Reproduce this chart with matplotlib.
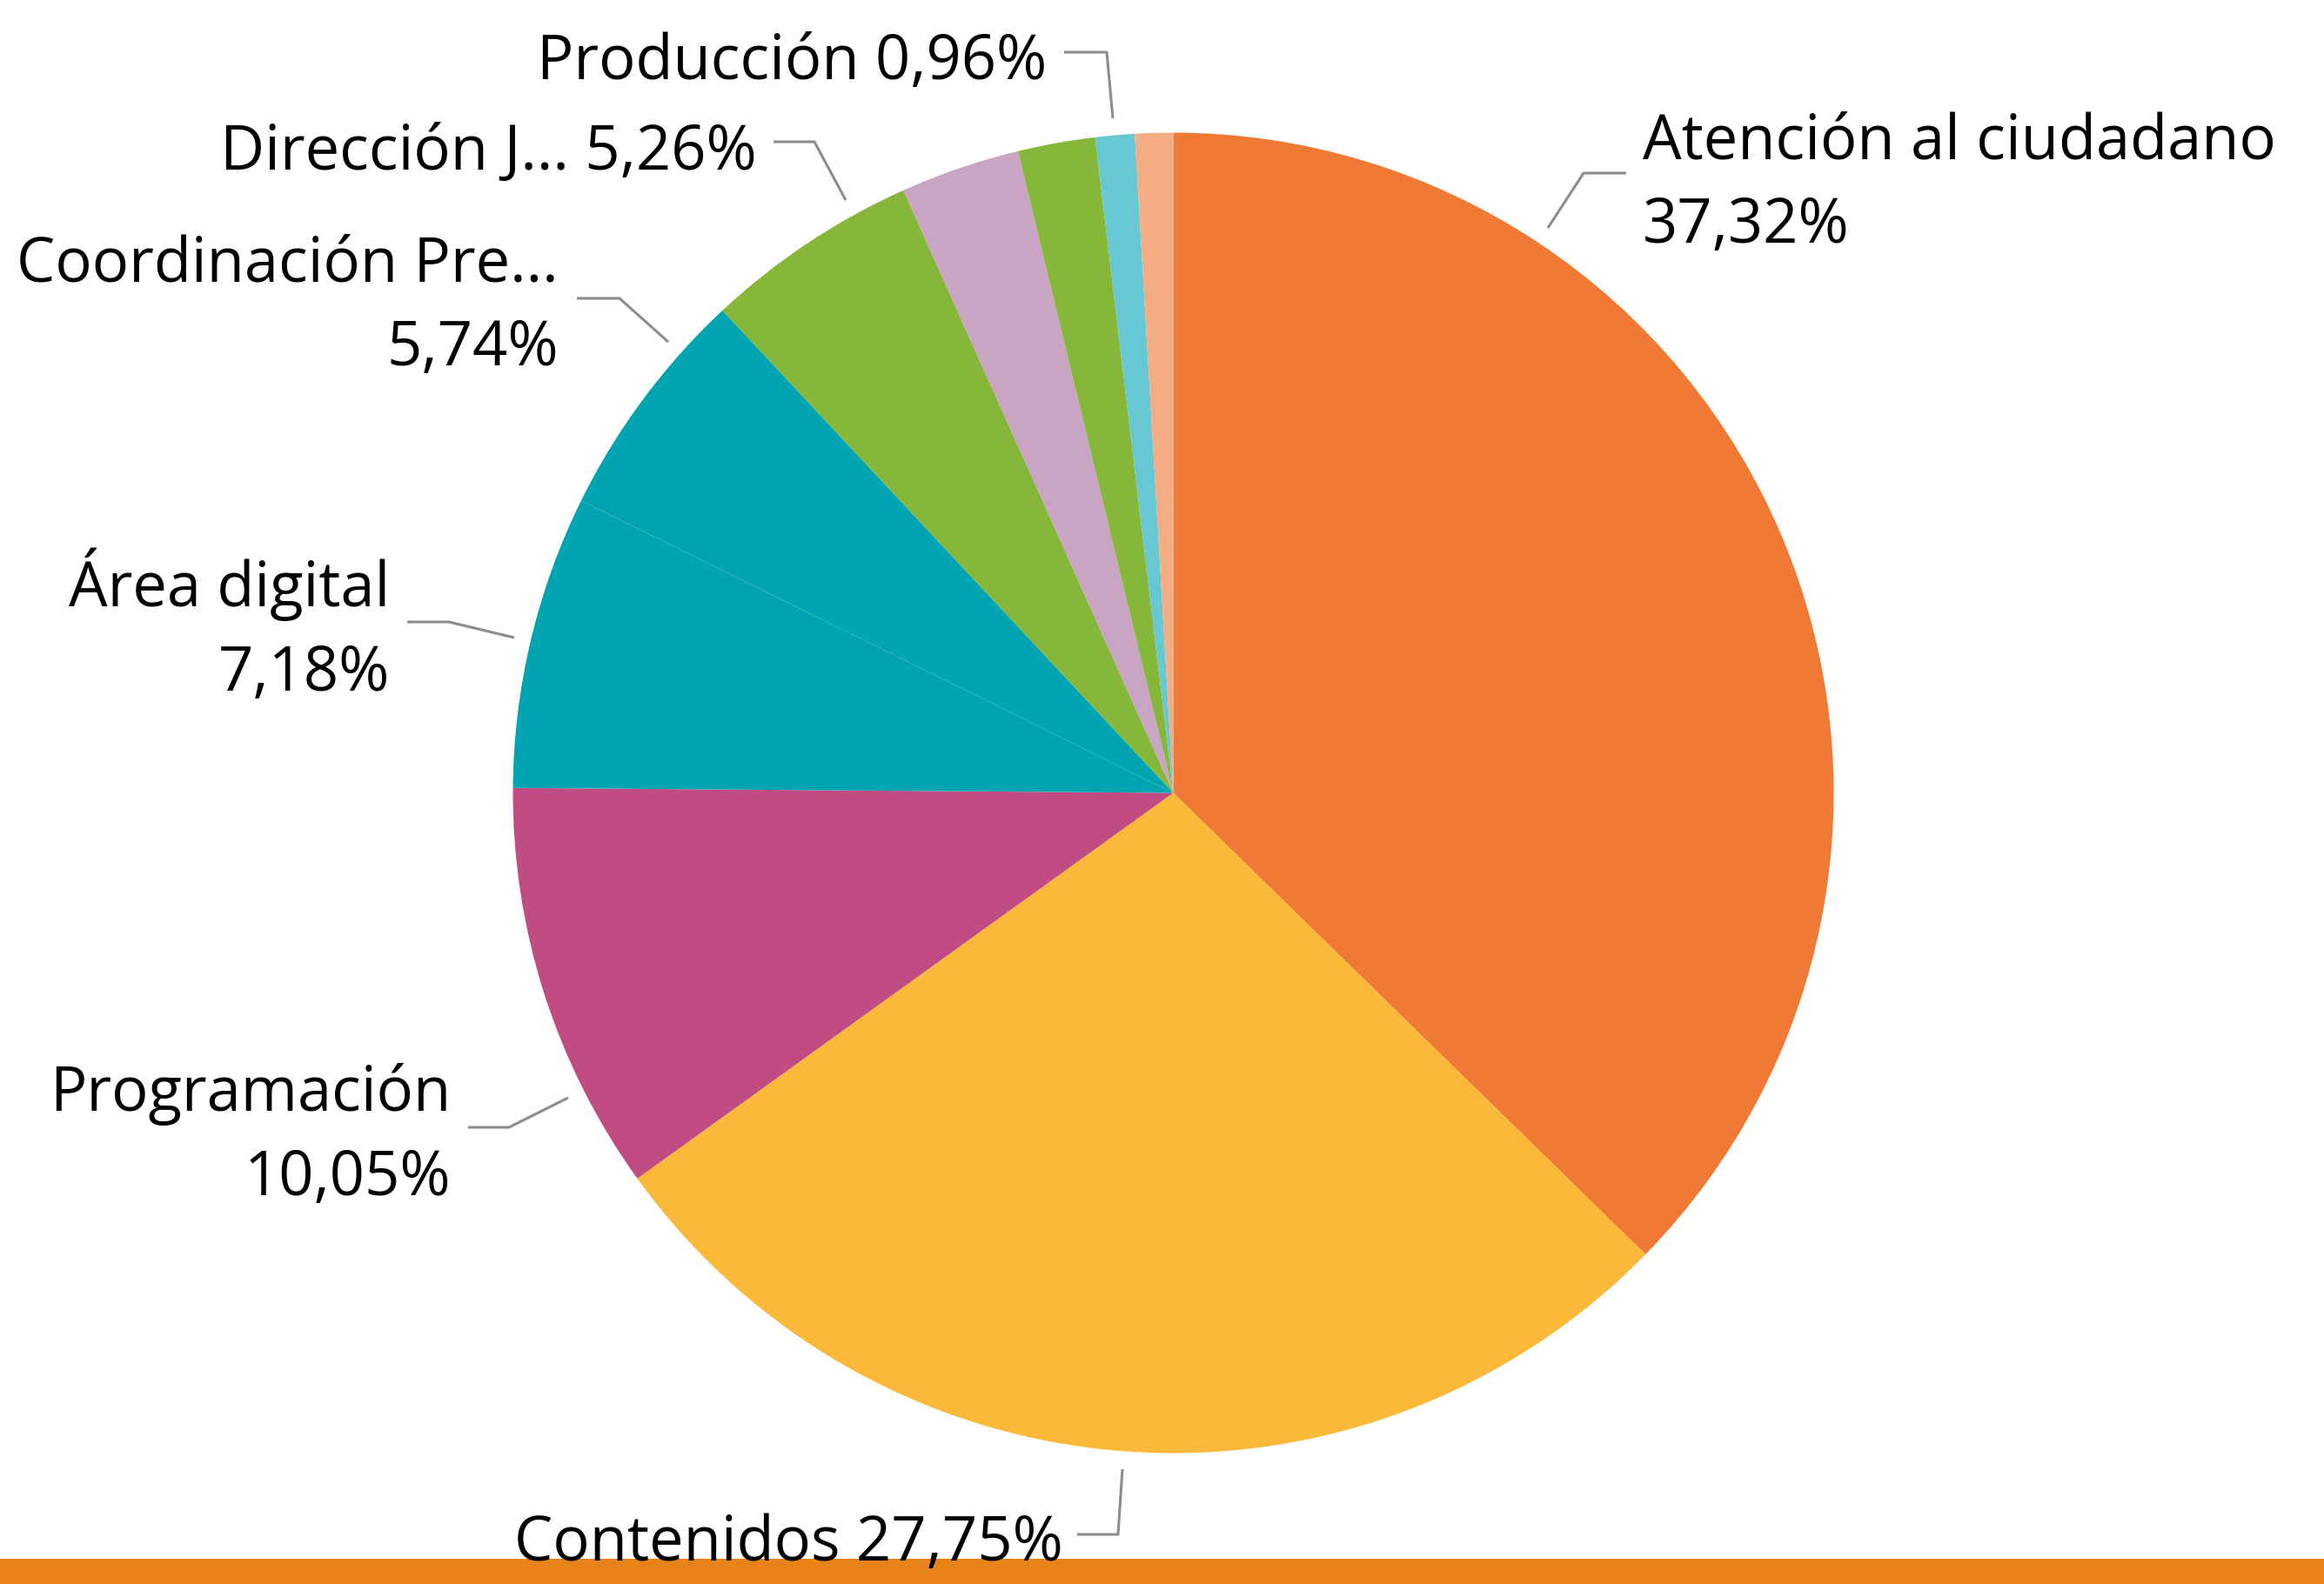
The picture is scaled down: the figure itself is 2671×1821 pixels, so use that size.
import matplotlib
matplotlib.use("Agg")
import matplotlib.pyplot as plt
from matplotlib.patches import Rectangle

plt.rcParams['font.family'] = ['Open Sans', 'DejaVu Sans']

# datos (sentido horario desde arriba)
categorias = ["Atención al ciudadano", "Contenidos", "Programación", "Área digital",
              "Coordinación Pre...", "Dirección J...", "", "", "Producción", ""]
valores = [37.32, 27.75, 10.05, 7.18, 5.74, 5.26, 2.92, 1.89, 0.96, 0.93]
colores = ["#F07935", "#FBB939", "#C04C83", "#00A5B1", "#00A5B1",
           "#86B73A", "#C9A5C3", "#86B73A", "#67C7D2", "#F4AD83"]

W, H = 2671, 1821
cx, cy, r = 1348.5, 911.5, 759.0   # centro y radio de la tarta en pixeles


def to_data(X, Y):
    return (X - cx) / r, (cy - Y) / r


fig = plt.figure(figsize=(W / 100, H / 100), dpi=100)
ax = fig.add_axes([(cx - r) / W, (H - cy - r) / H, 2 * r / W, 2 * r / H])

ax.pie(valores, colors=colores, startangle=90, counterclock=False, radius=1,
       wedgeprops=dict(linewidth=0))
ax.set_xlim(-1, 1)
ax.set_ylim(-1, 1)
ax.set_aspect('auto')
ax.set_frame_on(False)

# posicion de etiquetas: (indice, dos lineas?, x, ha, baseline, lineas guia)
etiquetas = [
    (0, True, 1888, 'left', 182, [(1779, 262), (1820, 199), (1869, 199)]),
    (1, False, 591, 'left', 1794, [(1290, 1689), (1285, 1764), (1238, 1764)]),
    (2, True, 518, 'right', 1277, [(653, 1262), (585, 1296), (538, 1296)]),
    (3, True, 448, 'right', 697, [(591, 733), (516, 715), (468, 715)]),
    (4, True, 642, 'right', 323, [(768, 393), (712, 343), (663, 343)]),
    (5, False, 870, 'right', 195, [(972, 230), (936, 163), (889, 163)]),
    (8, False, 1203, 'right', 91, [(1279, 136), (1272, 60), (1223, 60)]),
]
paso = 97
fs = 50.8

for i, dos, x, ha, y0, guia in etiquetas:
    pct = f"{valores[i]:.2f}".replace('.', ',') + "%"
    lineas = [categorias[i], pct] if dos else [categorias[i] + " " + pct]
    for k, txt in enumerate(lineas):
        tx, ty = to_data(x, y0 + k * paso)
        ax.text(tx, ty, txt, ha=ha, va='baseline', fontsize=fs, color='black',
                clip_on=False)
    pts = [to_data(px, py) for px, py in guia]
    ax.plot([p[0] for p in pts], [p[1] for p in pts], color='#8C8C8C', lw=2.2,
            clip_on=False, solid_capstyle='butt')

fig.patches.append(Rectangle((0, 0), 1, 29 / H, transform=fig.transFigure,
                             facecolor='#E88319', edgecolor='none', zorder=-1))

fig.savefig("out.png", dpi=100, facecolor='white')
